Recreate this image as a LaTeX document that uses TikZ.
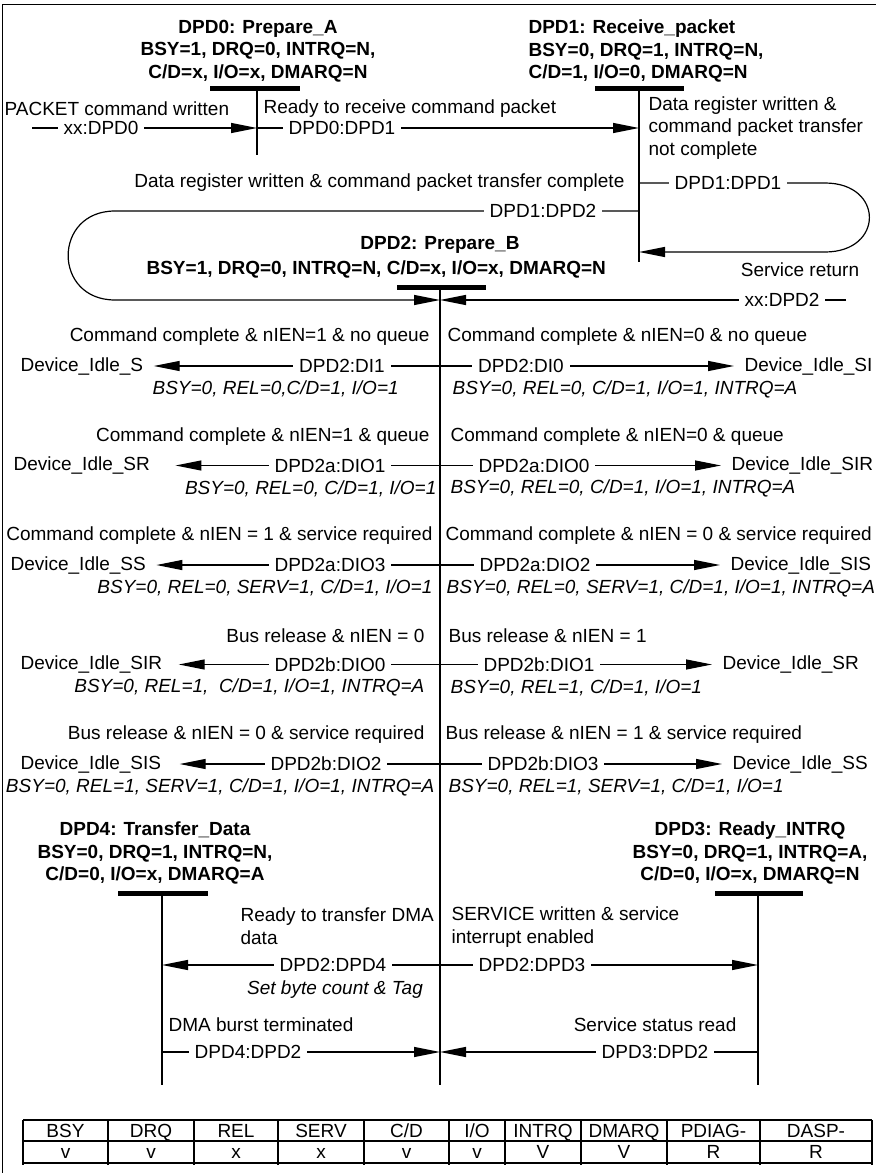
\documentclass[tikz,border=0pt]{standalone}
\usepackage{fontspec}
\setmainfont{Liberation Sans}
\usetikzlibrary{arrows.meta}
\begin{document}
\begin{tikzpicture}[x=0.5pt,y=-0.5pt,line width=0.6pt,
  every node/.style={inner sep=0pt,font=\fontsize{9.5}{11.25}\selectfont},
  hd/.style={font=\fontsize{9.5}{11.25}\selectfont\bfseries,align=center},
  reg/.style={font=\fontsize{9.5}{11.25}\selectfont\itshape},
  tag/.style={fill=white,inner xsep=3pt,inner ysep=1pt},
  idle/.style={inner xsep=5pt},
  arr/.style={-{Triangle[length=13pt,width=5pt]}},
  bar/.style={line width=2.5pt}]
  \useasboundingbox (0,0) rectangle (876,1173);
  \draw[line width=0.9pt] (2.5,1173) -- (2.5,4.5) -- (876,4.5);

  \node[hd] (dpd0) at (258,51) {DPD0: Prepare\_A\\BSY=1, DRQ=0, INTRQ=N,\\C/D=x, I/O=x, DMARQ=N};
  \draw[bar] (210,88) -- (300,88);
  \draw (257,88) -- (257,155);
  \coordinate (in0) at (257,128);
  \coordinate (xx0) at (32,128);
  \draw[arr] (xx0) -- (in0);
  \node[tag] (t00) at (101,128) {xx:DPD0};
  \node[anchor=west] (c00) at (4,109) {PACKET command written};

  \node[hd,align=left,anchor=west] (dpd1) at (528,51) {DPD1: Receive\_packet\\BSY=0, DRQ=1, INTRQ=N,\\C/D=1, I/O=0, DMARQ=N};
  \draw[bar] (595,88) -- (684,88);
  \draw (639,88) -- (639,262);
  \coordinate (in1) at (639,128);
  \draw[arr] (in0) -- (in1);
  \node[tag] (t01) at (342,128) {DPD0:DPD1};
  \node[anchor=west] (c01) at (263,109) {Ready to receive command packet};
  \node[anchor=west,align=left] (c11) at (648,128) {Data register written \&\\command packet transfer\\not complete};

  \coordinate (o11) at (639,183);
  \coordinate (i11) at (639,252);
  \draw[arr] (o11) -- (825,183) to[out=0,in=0,looseness=2.2] (825,252) -- (i11);
  \node[tag] (t11) at (728,183) {DPD1:DPD1};
  \node[anchor=east] (c12) at (625,183) {Data register written \& command packet transfer complete};

  \coordinate (o12) at (639,211);
  \coordinate (in2l) at (440,300);
  \draw[arr] (o12) -- (115,211) to[out=180,in=180,looseness=1.8] (115,300) -- (in2l);
  \node[tag] (t12) at (543,211) {DPD1:DPD2};

  \node[hd] (dpd2) at (440,245) {DPD2: Prepare\_B};
  \node[hd,anchor=west] (dpd2s) at (146,269) {BSY=1, DRQ=0, INTRQ=N, C/D=x, I/O=x, DMARQ=N};
  \draw[bar] (397,287) -- (486,287);
  \draw (440,287) -- (440,1085);
  \coordinate (xx2) at (846,300);
  \coordinate (in2r) at (440,300);
  \draw[arr] (xx2) -- (in2r);
  \node[tag] (t22) at (782,300) {xx:DPD2};
  \node (c22) at (800,270) {Service return};

  \coordinate (v1) at (440,366);
  \node[anchor=east] (c1l) at (430,337) {Command complete \& nIEN=1 \& no queue};
  \node[idle,anchor=west] (d1l) at (10,366) {Device\_Idle\_S};
  \draw[arr] (v1) -- (v1 -| d1l.east);
  \node[tag] (t1l) at (342,366) {DPD2:DI1};
  \node[reg,anchor=west] (r1l) at (152,389) {BSY=0, REL=0,C/D=1, I/O=1};
  \node[anchor=west] (c1r) at (447,337) {Command complete \& nIEN=0 \& no queue};
  \node[idle,anchor=west] (d1r) at (734,366) {Device\_Idle\_SI};
  \draw[arr] (v1) -- (v1 -| d1r.west);
  \node[tag] (t1r) at (521,366) {DPD2:DI0};
  \node[reg,anchor=west] (r1r) at (452,389) {BSY=0, REL=0, C/D=1, I/O=1, INTRQ=A};

  \coordinate (v2) at (440,465.5);
  \node[anchor=east] (c2l) at (430,436.5) {Command complete \& nIEN=1 \& queue};
  \node[idle,anchor=west] (d2l) at (3,465.5) {Device\_Idle\_SR};
  \draw[arr,shorten >=7.5pt] (v2) -- (v2 -| d2l.east);
  \node[tag] (t2l) at (330,465.5) {DPD2a:DIO1};
  \node[reg,anchor=east] (r2l) at (437,488.5) {BSY=0, REL=0, C/D=1, I/O=1};
  \node[anchor=west] (c2r) at (450,436.5) {Command complete \& nIEN=0 \& queue};
  \node[idle,anchor=west] (d2r) at (721,465.5) {Device\_Idle\_SIR};
  \draw[arr] (v2) -- (v2 -| d2r.west);
  \node[tag] (t2r) at (534,465.5) {DPD2a:DIO0};
  \node[reg,anchor=west] (r2r) at (450,488.5) {BSY=0, REL=0, C/D=1, I/O=1, INTRQ=A};

  \coordinate (v3) at (440,565);
  \node[anchor=east] (c3l) at (433,536) {Command complete \& nIEN = 1 \& service required};
  \node[idle,anchor=west] (d3l) at (0,565) {Device\_Idle\_SS};
  \draw[arr] (v3) -- (v3 -| d3l.east);
  \node[tag] (t3l) at (330,565) {DPD2a:DIO3};
  \node[reg,anchor=east] (r3l) at (433,588) {BSY=0, REL=0, SERV=1, C/D=1, I/O=1};
  \node[anchor=west] (c3r) at (445,536) {Command complete \& nIEN = 0 \& service required};
  \node[idle,anchor=west] (d3r) at (720,565) {Device\_Idle\_SIS};
  \draw[arr] (v3) -- (v3 -| d3r.west);
  \node[tag] (t3r) at (535,565) {DPD2a:DIO2};
  \node[reg,anchor=west] (r3r) at (446,588) {BSY=0, REL=0, SERV=1, C/D=1, I/O=1, INTRQ=A};

  \coordinate (v4) at (440,664.5);
  \node[anchor=east] (c4l) at (425,635.5) {Bus release \& nIEN = 0};
  \node[idle,anchor=west] (d4l) at (10,664.5) {Device\_Idle\_SIR};
  \draw[arr,shorten >=3pt] (v4) -- (v4 -| d4l.east);
  \node[tag] (t4l) at (330,664.5) {DPD2b:DIO0};
  \node[reg,anchor=east] (r4l) at (425,687.5) {BSY=0, REL=1,~ C/D=1, I/O=1, INTRQ=A};
  \node[anchor=west] (c4r) at (448,635.5) {Bus release \& nIEN = 1};
  \node[idle,anchor=west] (d4r) at (712,664.5) {Device\_Idle\_SR};
  \draw[arr] (v4) -- (v4 -| d4r.west);
  \node[tag] (t4r) at (539,664.5) {DPD2b:DIO1};
  \node[reg,anchor=west] (r4r) at (450,687.5) {BSY=0, REL=1, C/D=1, I/O=1};

  \coordinate (v5) at (440,764);
  \node[anchor=east] (c5l) at (425,735) {Bus release \& nIEN = 0 \& service required};
  \node[idle,anchor=west] (d5l) at (10,764) {Device\_Idle\_SIS};
  \draw[arr,shorten >=4pt] (v5) -- (v5 -| d5l.east);
  \node[tag] (t5l) at (326,764) {DPD2b:DIO2};
  \node[reg,anchor=east] (r5l) at (435,787) {BSY=0, REL=1, SERV=1, C/D=1, I/O=1, INTRQ=A};
  \node[anchor=west] (c5r) at (445,735) {Bus release \& nIEN = 1 \& service required};
  \node[idle,anchor=west] (d5r) at (722,764) {Device\_Idle\_SS};
  \draw[arr] (v5) -- (v5 -| d5r.west);
  \node[tag] (t5r) at (543,764) {DPD2b:DIO3};
  \node[reg,anchor=west] (r5r) at (448,787) {BSY=0, REL=1, SERV=1, C/D=1, I/O=1};

  \node[hd] (dpd4) at (155,853) {DPD4: Transfer\_Data\\BSY=0, DRQ=1, INTRQ=N,\\C/D=0, I/O=x, DMARQ=A};
  \draw[bar] (118,893) -- (208,893);
  \draw (162,893) -- (162,1085);
  \node[hd] (dpd3) at (750,853) {DPD3: Ready\_INTRQ\\BSY=0, DRQ=1, INTRQ=A,\\C/D=0, I/O=x, DMARQ=N};
  \draw[bar] (715,893) -- (803,893);
  \draw (758,893) -- (758,1085);

  \coordinate (o2x) at (440,965);
  \coordinate (in4) at (162,965);
  \coordinate (in3) at (758,965);
  \draw[arr] (o2x) -- (in4);
  \draw[arr] (o2x) -- (in3);
  \node[tag] (t24) at (333,965) {DPD2:DPD4};
  \node[tag] (t23) at (532,965) {DPD2:DPD3};
  \node[anchor=west,align=left] (c24) at (240,926) {Ready to transfer DMA\\data};
  \node[anchor=west,align=left] (c23) at (451,927) {SERVICE written \& service\\interrupt enabled};
  \node[reg] (r24) at (335,990) {Set byte count \& Tag};

  \coordinate (o42) at (162,1052);
  \coordinate (o32) at (758,1052);
  \coordinate (in2b) at (440,1052);
  \draw[arr] (o42) -- (in2b);
  \draw[arr] (o32) -- (in2b);
  \node[tag] (t42) at (248,1052) {DPD4:DPD2};
  \node[tag] (t32) at (655,1052) {DPD3:DPD2};
  \node[anchor=west] (c42) at (168,1025) {DMA burst terminated};
  \node[anchor=east] (c32) at (737,1025) {Service status read};

  \draw (23,1120) -- (872,1120) (23,1141) -- (872,1141) (23,1163) -- (872,1163);
  \foreach \x in {23,108,194,278,364,449,505,581,667,760,872}
    \draw (\x,1120) -- (\x,1165);
  \foreach \a/\b/\h/\v [count=\i] in {23/108/BSY/v,108/194/DRQ/v,194/278/REL/x,278/364/SERV/x,364/449/{C/D}/v,449/505/{I/O}/v,505/581/INTRQ/V,581/667/DMARQ/V,667/760/PDIAG-/R,760/872/DASP-/R}
  {
    \node[anchor=base] (h\i) at ({(\a+\b)/2},1137) {\h};
    \node[anchor=base] (r\i) at ({(\a+\b)/2},1158.5) {\v};
  }
\end{tikzpicture}
\end{document}
